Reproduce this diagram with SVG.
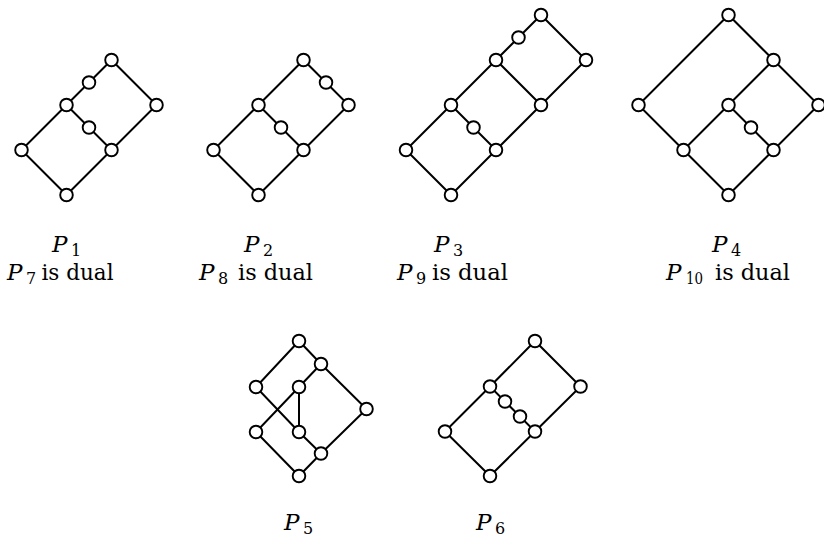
<svg xmlns="http://www.w3.org/2000/svg" width="824" height="539" viewBox="0 0 824 539">
<style>
.e{stroke:#000;stroke-width:2;fill:none;stroke-linecap:round}
.n{fill:#fff;stroke:#000;stroke-width:1.9}
</style>
<rect width="824" height="539" fill="#fff"/>
<g id="connectors">
<path class="e" d="M66.5,195 L21.5,150 L66.5,105 L89,82.5 L111.5,60 L156.5,105 L111.5,150 L66.5,195 M66.5,105 L89,127.5 L111.5,150"/>
<path class="e" d="M258.5,195 L213.5,150 L258.5,105 L303.5,60 L326,82.5 L348.5,105 L303.5,150 L258.5,195 M258.5,105 L281,127.5 L303.5,150"/>
<path class="e" d="M451,195 L406,150 L451,105 L496,60 L518.5,37.5 L541,15 L586,60 L541,105 L496,150 L451,195 M451,105 L473.5,127.5 L496,150 M496,60 L541,105"/>
<path class="e" d="M728.5,195 L683.5,150 L638.5,105 L728.5,15 L773.5,60 L818.5,105 L773.5,150 L728.5,195 M683.5,150 L728.5,105 L773.5,60 M728.5,105 L751,127.5 L773.5,150"/>
<path class="e" d="M299,341 L321,364 L366.5,409 L321,453.5 L299,476 L256,432 L299,387 L321,364 M299,341 L256,387 L299,432 L321,453.5 M299,387 L299,432"/>
<path class="e" d="M490,476 L445,431.5 L490,386.5 L535,341 L580.5,386.5 L535,431.5 L490,476 M490,386.5 L505,401.5 L520,416.5 L535,431.5"/>
</g>
<g id="P1">
<circle class="n" cx="66.5" cy="195" r="6.3"/><circle class="n" cx="21.5" cy="150" r="6.3"/><circle class="n" cx="111.5" cy="150" r="6.3"/><circle class="n" cx="66.5" cy="105" r="6.3"/><circle class="n" cx="89" cy="127.5" r="6.3"/><circle class="n" cx="89" cy="82.5" r="6.3"/><circle class="n" cx="111.5" cy="60" r="6.3"/><circle class="n" cx="156.5" cy="105" r="6.3"/>
</g>
<g id="P2">
<circle class="n" cx="258.5" cy="195" r="6.3"/><circle class="n" cx="213.5" cy="150" r="6.3"/><circle class="n" cx="303.5" cy="150" r="6.3"/><circle class="n" cx="258.5" cy="105" r="6.3"/><circle class="n" cx="281" cy="127.5" r="6.3"/><circle class="n" cx="303.5" cy="60" r="6.3"/><circle class="n" cx="326" cy="82.5" r="6.3"/><circle class="n" cx="348.5" cy="105" r="6.3"/>
</g>
<g id="P3">
<circle class="n" cx="451" cy="195" r="6.3"/><circle class="n" cx="406" cy="150" r="6.3"/><circle class="n" cx="496" cy="150" r="6.3"/><circle class="n" cx="451" cy="105" r="6.3"/><circle class="n" cx="473.5" cy="127.5" r="6.3"/><circle class="n" cx="541" cy="105" r="6.3"/><circle class="n" cx="496" cy="60" r="6.3"/><circle class="n" cx="586" cy="60" r="6.3"/><circle class="n" cx="518.5" cy="37.5" r="6.3"/><circle class="n" cx="541" cy="15" r="6.3"/>
</g>
<g id="P4">
<circle class="n" cx="728.5" cy="195" r="6.3"/><circle class="n" cx="683.5" cy="150" r="6.3"/><circle class="n" cx="773.5" cy="150" r="6.3"/><circle class="n" cx="751" cy="127.5" r="6.3"/><circle class="n" cx="728.5" cy="105" r="6.3"/><circle class="n" cx="638.5" cy="105" r="6.3"/><circle class="n" cx="818.5" cy="105" r="6.3"/><circle class="n" cx="773.5" cy="60" r="6.3"/><circle class="n" cx="728.5" cy="15" r="6.3"/>
</g>
<g id="P5">
<circle class="n" cx="299" cy="341" r="6.3"/><circle class="n" cx="321" cy="364" r="6.3"/><circle class="n" cx="256" cy="387" r="6.3"/><circle class="n" cx="299" cy="387" r="6.3"/><circle class="n" cx="366.5" cy="409" r="6.3"/><circle class="n" cx="256" cy="432" r="6.3"/><circle class="n" cx="299" cy="432" r="6.3"/><circle class="n" cx="321" cy="453.5" r="6.3"/><circle class="n" cx="299" cy="476" r="6.3"/>
</g>
<g id="P6">
<circle class="n" cx="535" cy="341" r="6.3"/><circle class="n" cx="580.5" cy="386.5" r="6.3"/><circle class="n" cx="490" cy="386.5" r="6.3"/><circle class="n" cx="505" cy="401.5" r="6.3"/><circle class="n" cx="520" cy="416.5" r="6.3"/><circle class="n" cx="535" cy="431.5" r="6.3"/><circle class="n" cx="445" cy="431.5" r="6.3"/><circle class="n" cx="490" cy="476" r="6.3"/>
</g>
<g id="labels" font-family="DejaVu Serif, serif" fill="#000">
<g font-style="italic" font-size="23">
<text x="52" y="252">P</text><text x="244" y="252">P</text><text x="434" y="252">P</text><text x="712" y="252">P</text>
<text x="7" y="280">P</text><text x="199" y="280">P</text><text x="397" y="280">P</text><text x="666" y="280">P</text>
<text x="284" y="530">P</text><text x="476" y="530">P</text>
</g>
<g font-size="16">
<text x="71" y="256">1</text><text x="263" y="256">2</text><text x="453" y="256">3</text><text x="731" y="256">4</text>
<text x="26" y="284">7</text><text x="218" y="284">8</text><text x="416" y="284">9</text><text x="686" y="284" textLength="17" lengthAdjust="spacingAndGlyphs">10</text>
<text x="303" y="534">5</text><text x="495" y="534">6</text>
</g>
<g font-size="23">
<text x="41.5" y="280" textLength="72" lengthAdjust="spacingAndGlyphs">is dual</text>
<text x="238" y="280" textLength="75" lengthAdjust="spacingAndGlyphs">is dual</text>
<text x="432" y="280" textLength="76" lengthAdjust="spacingAndGlyphs">is dual</text>
<text x="715" y="280" textLength="75" lengthAdjust="spacingAndGlyphs">is dual</text>
</g>
</g>
</svg>
